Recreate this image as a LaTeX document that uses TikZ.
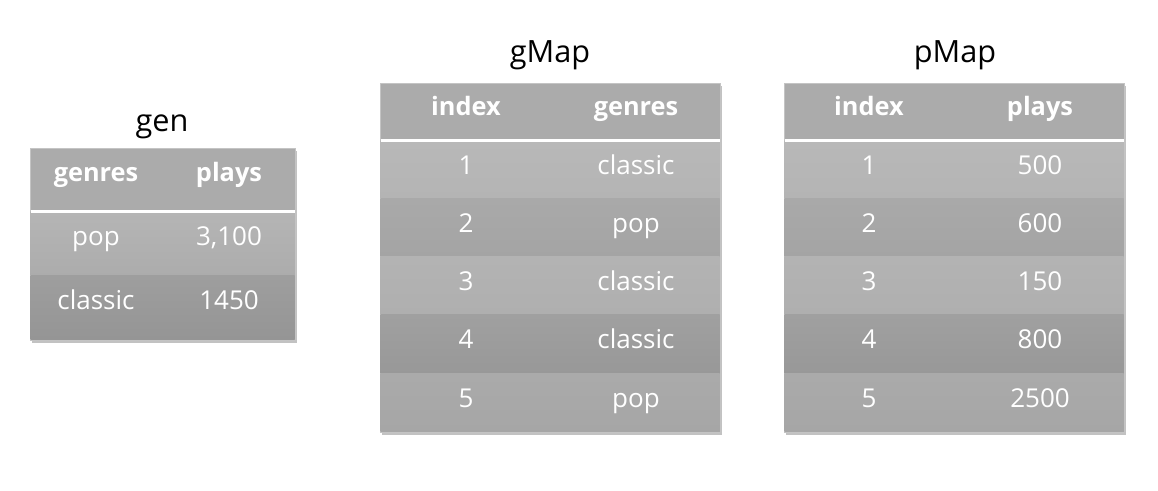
\documentclass[tikz,border=0pt]{standalone}
\usepackage{fontspec}
\setmainfont{Open Sans}
\usetikzlibrary{positioning, shadows}
\definecolor{headgray}{HTML}{ABABAB}
\definecolor{rimgray}{HTML}{C4C4C4}
\tikzstyle{title} = [anchor=base, text=black, font=\fontsize{23}{27}\selectfont]
\tikzstyle{head} = [anchor=base, text=white, font=\fontsize{19}{23}\selectfont\bfseries]
\tikzstyle{cell} = [anchor=base, text=white, font=\fontsize{19.5}{23}\selectfont]
\tikzstyle{frame} = [fill=headgray, draw=rimgray, line width=0.6pt,
  drop shadow={shadow xshift=1.2pt, shadow yshift=-2pt, opacity=0.4, fill=black!60}]
\tikzstyle{rule} = [white, line width=2.2pt]
\tikzstyle{rowa} = [top color={rgb,255:red,184;green,184;blue,184}, bottom color={rgb,255:red,180;green,180;blue,180}]
\tikzstyle{rowb} = [top color={rgb,255:red,169;green,169;blue,169}, bottom color={rgb,255:red,164;green,164;blue,164}]
\tikzstyle{rowc} = [top color={rgb,255:red,179;green,179;blue,179}, bottom color={rgb,255:red,175;green,175;blue,175}]
\tikzstyle{rowd} = [top color={rgb,255:red,160;green,160;blue,160}, bottom color={rgb,255:red,152;green,152;blue,152}]
\tikzstyle{rowe} = [top color={rgb,255:red,170;green,170;blue,170}, bottom color={rgb,255:red,166;green,166;blue,166}]

\begin{document}
\begin{tikzpicture}[x=0.75pt, y=-0.75pt]
  \useasboundingbox (0,0) rectangle (1158,491);

  % gen
  \node[title] (genT) at (162,132) {gen};
  \filldraw[frame] (30,148) rectangle (295,340);
  \shade[top color={rgb,255:red,181;green,181;blue,181}, bottom color={rgb,255:red,172;green,172;blue,172}] (30.5,212) rectangle (294.5,276);
  \shade[top color={rgb,255:red,158;green,158;blue,158}, bottom color={rgb,255:red,149;green,149;blue,149}] (30.5,276) rectangle (294.5,339.5);
  \draw[rule] (30.5,211.5) -- (294.5,211.5);
  \node[head] (genH1) at (96,182) {genres};
  \node[head] (genH2) at (229,182) {plays};
  \node[cell] (gen11) at (96,246) {pop};
  \node[cell] (gen12) at (229,246) {3,100};
  \node[cell] (gen21) at (96,310) {classic};
  \node[cell] (gen22) at (229,310) {1450};

  % gMap
  \node[title] (gMapT) at (550,63) {gMap};
  \filldraw[frame] (380,83) rectangle (720,432);
  \shade[rowa] (380.5,141) rectangle (719.5,199);
  \shade[rowb] (380.5,199) rectangle (719.5,257);
  \shade[rowc] (380.5,257) rectangle (719.5,315);
  \shade[rowd] (380.5,315) rectangle (719.5,374);
  \shade[rowe] (380.5,374) rectangle (719.5,431.5);
  \draw[rule] (380.5,140.3) -- (719.5,140.3);
  \node[head] (gMapH1) at (466,116) {index};
  \node[head] (gMapH2) at (636,116) {genres};
  \node[cell] (gMap11) at (466,175) {1};
  \node[cell] (gMap12) at (636,175) {classic};
  \node[cell] (gMap21) at (466,233) {2};
  \node[cell] (gMap22) at (636,233) {pop};
  \node[cell] (gMap31) at (466,291) {3};
  \node[cell] (gMap32) at (636,291) {classic};
  \node[cell] (gMap41) at (466,349) {4};
  \node[cell] (gMap42) at (636,349) {classic};
  \node[cell] (gMap51) at (466,408) {5};
  \node[cell] (gMap52) at (636,408) {pop};

  % pMap
  \node[title] (pMapT) at (955,63) {pMap};
  \filldraw[frame] (784,83) rectangle (1124,432);
  \shade[rowa] (784.5,141) rectangle (1123.5,199);
  \shade[rowb] (784.5,199) rectangle (1123.5,257);
  \shade[rowc] (784.5,257) rectangle (1123.5,315);
  \shade[rowd] (784.5,315) rectangle (1123.5,374);
  \shade[rowe] (784.5,374) rectangle (1123.5,431.5);
  \draw[rule] (784.5,140.3) -- (1123.5,140.3);
  \node[head] (pMapH1) at (869,116) {index};
  \node[head] (pMapH2) at (1040,116) {plays};
  \node[cell] (pMap11) at (869,175) {1};
  \node[cell] (pMap12) at (1040,175) {500};
  \node[cell] (pMap21) at (869,233) {2};
  \node[cell] (pMap22) at (1040,233) {600};
  \node[cell] (pMap31) at (869,291) {3};
  \node[cell] (pMap32) at (1040,291) {150};
  \node[cell] (pMap41) at (869,349) {4};
  \node[cell] (pMap42) at (1040,349) {800};
  \node[cell] (pMap51) at (869,408) {5};
  \node[cell] (pMap52) at (1040,408) {2500};
\end{tikzpicture}
\end{document}
